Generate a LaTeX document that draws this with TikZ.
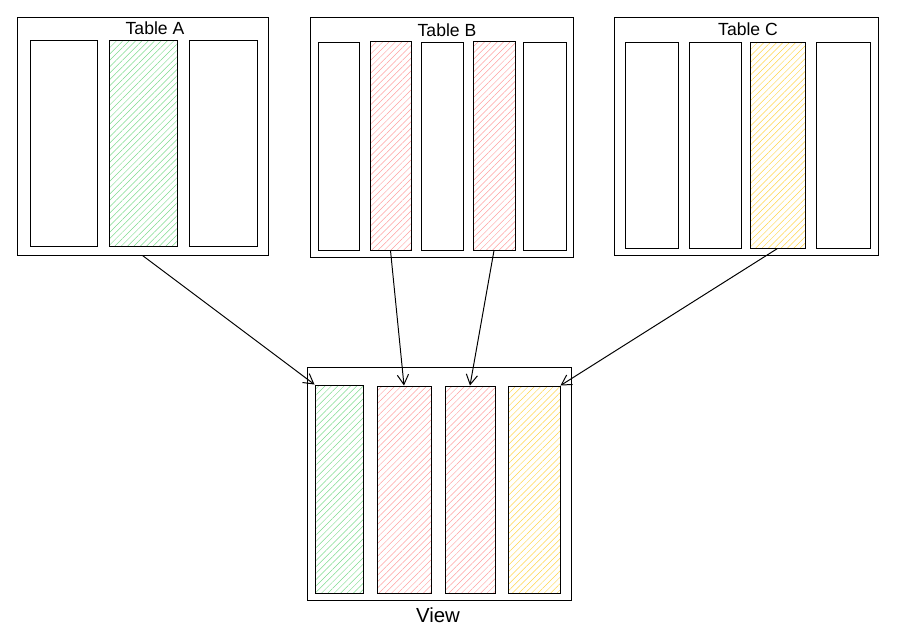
\documentclass[tikz,border=0pt]{standalone}
\usepackage{fontspec}
\setmainfont{Liberation Sans}
\usetikzlibrary{fit,patterns.meta,arrows.meta}
\definecolor{hgreen}{HTML}{7EDB8E}
\definecolor{hred}{HTML}{FFA0A0}
\definecolor{hyellow}{HTML}{FFD54A}
\tikzset{every picture/.style={line width=0.7pt},
	tbl/.style={draw,inner sep=0pt},
	col/.style={draw,inner sep=0pt},
	hatch/.style={col,pattern={Lines[angle=45,distance=3.2pt,line width=0.35pt]},pattern color=#1},
	ttl/.style={font=\fontsize{12.5}{14}\selectfont,inner sep=1pt}}

\begin{document}
\begin{tikzpicture}[x=0.025cm,y=-0.025cm,>={Straight Barb[length=7pt,width=8pt]}]
	\useasboundingbox (0,0) rectangle (901,641);
	%Table A
	\node[tbl,fit={(17,17)(268,255)}] (tA) {};
	\node[ttl] (tAname) at (155,28) {Table A};
	\node[col,fit={(30,40)(97,246)}] (a1) {};
	\node[hatch=hgreen,fit={(109,40)(177,246)}] (a2) {};
	\node[col,fit={(189,40)(257,246)}] (a3) {};
	%Table B
	\node[tbl,fit={(310,17)(573,257)}] (tB) {};
	\node[ttl] (tBname) at (447,30) {Table B};
	\node[col,fit={(318,42)(359,250)}] (b1) {};
	\node[hatch=hred,fit={(370,41)(411,250)}] (b2) {};
	\node[col,fit={(421,42)(463,250)}] (b3) {};
	\node[hatch=hred,fit={(473,41)(515,250)}] (b4) {};
	\node[col,fit={(523,42)(566,250)}] (b5) {};
	%Table C
	\node[tbl,fit={(614,17)(878,255)}] (tC) {};
	\node[ttl] (tCname) at (748,29) {Table C};
	\node[col,fit={(625,42)(678,248)}] (c1) {};
	\node[col,fit={(689,42)(741,248)}] (c2) {};
	\node[hatch=hyellow,fit={(750,42)(805,248)}] (c3) {};
	\node[col,fit={(816,42)(870,248)}] (c4) {};
	%View
	\node[tbl,fit={(307,367)(571,600)}] (v) {};
	\node[ttl,font=\fontsize{14.5}{17}\selectfont] (vname) at (438,615) {View};
	\node[hatch=hgreen,fit={(315,385)(363,593)}] (v1) {};
	\node[hatch=hred,fit={(377,386)(431,593)}] (v2) {};
	\node[hatch=hred,fit={(445,386)(495,593)}] (v3) {};
	\node[hatch=hyellow,fit={(508,386)(560,593)}] (v4) {};
	%Mui ten
	\draw[->] (tA.south) -- (v1.north west);
	\draw[->] (b2.south) -- (v2.north);
	\draw[->] (b4.south) -- (v3.north);
	\draw[->] (c3.south) -- (v4.north east);
\end{tikzpicture}
\end{document}
